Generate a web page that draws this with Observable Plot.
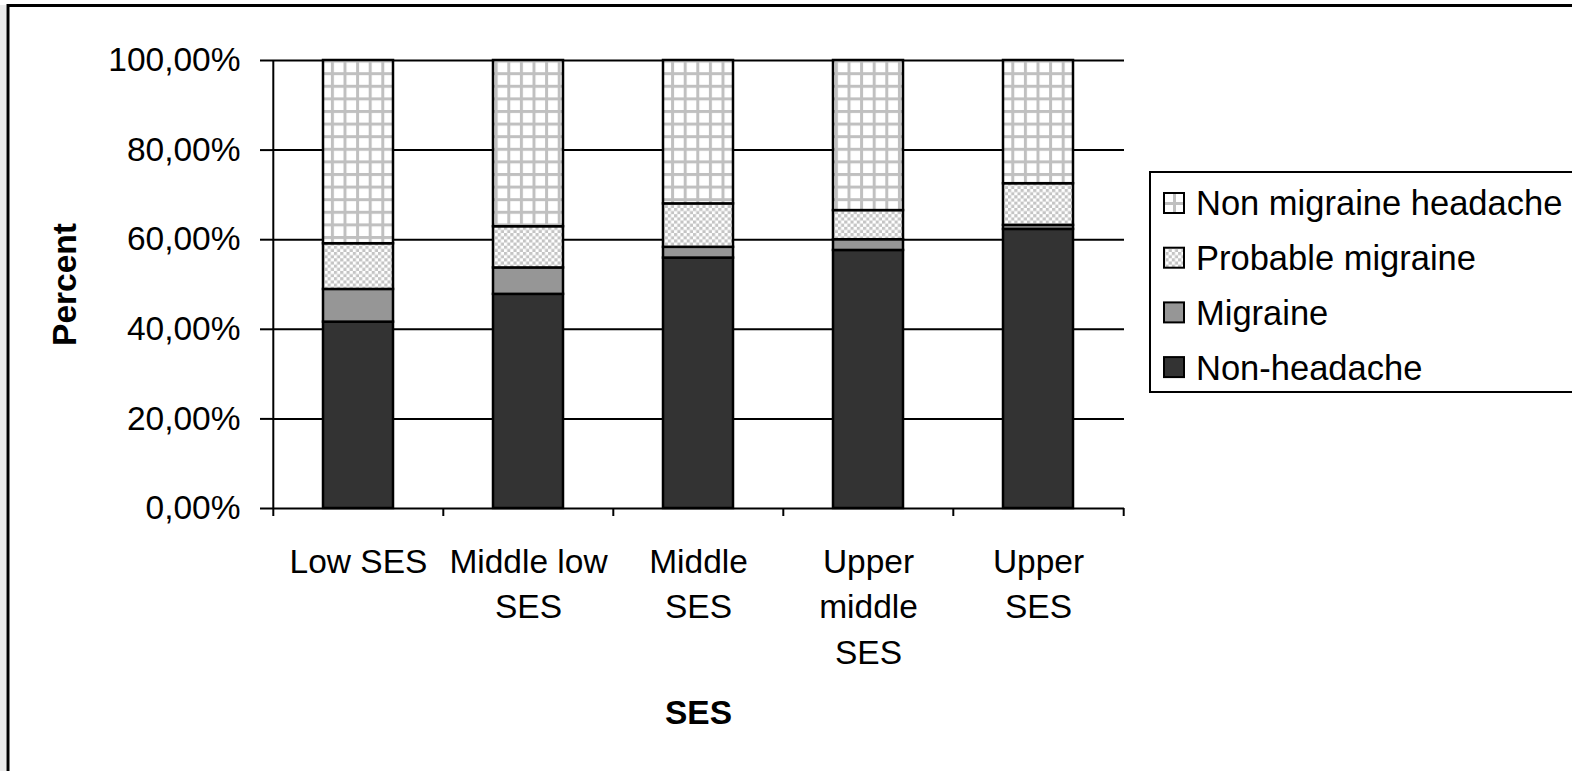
<!DOCTYPE html>
<html><head><meta charset="utf-8">
<script src="https://cdn.jsdelivr.net/npm/d3@7"></script>
<script src="https://cdn.jsdelivr.net/npm/@observablehq/plot@0.6"></script>
<style>
body{margin:0;background:#fff;}
#chart{position:relative;width:1572px;height:771px;overflow:hidden;}
</style>
</head><body>
<svg width="0" height="0" style="position:absolute">
  <defs>
    <pattern id="pat-grid" patternUnits="userSpaceOnUse" x="3.3" y="9.2" width="12.6" height="12.6">
      <rect width="12.6" height="12.6" fill="#ffffff"/>
      <rect x="0" y="0" width="3" height="12.6" fill="#c0c0c0"/>
      <rect x="0" y="0" width="12.6" height="3" fill="#c0c0c0"/>
    </pattern>
    <pattern id="pat-checker" patternUnits="userSpaceOnUse" width="6.3" height="6.3">
      <rect width="6.3" height="6.3" fill="#ffffff"/>
      <rect x="0" y="0" width="3.15" height="3.15" fill="#c4c4c4"/>
      <rect x="3.15" y="3.15" width="3.15" height="3.15" fill="#c4c4c4"/>
    </pattern>
    <pattern id="pat-grid-small" patternUnits="objectBoundingBox" width="1" height="1">
      <rect width="20" height="20" fill="#ffffff"/>
      <rect x="9" y="0" width="3" height="20" fill="#c0c0c0"/>
      <rect x="0" y="9" width="20" height="3" fill="#c0c0c0"/>
    </pattern>
  </defs>
</svg>
<div id="chart"></div>
<script>
const categories = ["Low SES", "Middle low SES", "Middle SES", "Upper middle SES", "Upper SES"];
const categoryLabels = ["Low SES", "Middle low\nSES", "Middle\nSES", "Upper\nmiddle\nSES", "Upper\nSES"];
const seriesNames = ["Non-headache", "Migraine", "Probable migraine", "Non migraine headache"];
const nonHeadache = [41.6, 47.8, 55.9, 57.6, 62.3];
const migraine = [7.3, 5.9, 2.4, 2.4, 0.9];
const probableMigraine = [10.2, 9.2, 9.7, 6.5, 9.3];
const nonMigraineHeadache = [40.9, 37.1, 32.0, 33.5, 27.5];
const yTicks = [0, 20, 40, 60, 80, 100];
const legendOrder = ["Non migraine headache", "Probable migraine", "Migraine", "Non-headache"];

const seriesValues = [nonHeadache, migraine, probableMigraine, nonMigraineHeadache];
const fills = ["#333333", "#969696", "url(#pat-checker)", "url(#pat-grid)"];
const legendFills = {"Non-headache": "#333333", "Migraine": "#969696", "Probable migraine": "url(#pat-checker)", "Non migraine headache": "url(#pat-grid-small)"};

const rows = [];
categories.forEach((c, i) => {
  seriesNames.forEach((s, j) => rows.push({ses: c, series: s, value: seriesValues[j][i]}));
});

const W = 1572, H = 771;
const mL = 272, mR = 448, mT = 60, mB = 263;
const step = (W - mL - mR) / categories.length;
const font = "'Liberation Sans', Arial, Helvetica, sans-serif";
const fs = 33.5;

const chart = Plot.plot({
  width: W, height: H,
  marginLeft: mL, marginRight: mR, marginTop: mT, marginBottom: mB,
  style: {fontFamily: font, fontSize: fs + "px", color: "black", background: "white", overflow: "visible"},
  x: {type: "band", domain: categories, paddingInner: 0.589, paddingOuter: 0.2945, axis: null},
  y: {domain: [0, 100], axis: null},
  color: {domain: seriesNames, range: fills},
  marks: [
    Plot.ruleY(yTicks, {stroke: "black", strokeWidth: 2}),
    Plot.barY(rows, Plot.stackY({x: "ses", y: "value", fill: "series", stroke: "black", strokeWidth: 2.5})),
    Plot.ruleX([categories[0]], {x: d => d, dx: -step / 2, y1: 100, y2: 0, insetBottom: -8, stroke: "black", strokeWidth: 2}),
    Plot.ruleX(categories.slice(1), {x: d => d, dx: -step / 2, y1: 0, y2: 0, insetBottom: -8, stroke: "black", strokeWidth: 2}),
    Plot.ruleX([categories[categories.length - 1]], {x: d => d, dx: step / 2, y1: 0, y2: 0, insetBottom: -8, stroke: "black", strokeWidth: 2}),
    Plot.axisY(yTicks, {tickSize: 12, tickPadding: 20, tickFormat: d => d.toFixed(2).replace(".", ",") + "%", label: null, strokeWidth: 2, fontSize: fs}),
    Plot.text(categories, {x: d => d, text: (d, i) => categoryLabels[i], frameAnchor: "bottom", textAnchor: "middle", lineAnchor: "top", dy: 32, lineHeight: 1.36, fontSize: fs}),
    Plot.text(["SES"], {frameAnchor: "bottom", text: d => d, textAnchor: "middle", lineAnchor: "middle", dy: 205, fontWeight: "bold", fontSize: fs}),
    Plot.text(["Percent"], {frameAnchor: "left", text: d => d, textAnchor: "middle", lineAnchor: "middle", rotate: -90, dx: -207, fontWeight: "bold", fontSize: fs})
  ]
});

document.getElementById("chart").appendChild(chart);

// outer frame and legend
const svg = d3.select(chart);
const deco = svg.append("g");
deco.append("rect").attr("x", 0).attr("y", 5).attr("width", 6).attr("height", H).attr("fill", "#ebebeb");
deco.append("line").attr("x1", 8).attr("x2", W + 5).attr("y1", 5.5).attr("y2", 5.5).attr("stroke", "black").attr("stroke-width", 3);
deco.append("line").attr("x1", 8).attr("x2", 8).attr("y1", 4).attr("y2", H + 5).attr("stroke", "black").attr("stroke-width", 3);

const lg = svg.append("g").attr("font-family", font).attr("font-size", 34.5).attr("text-anchor", "start");
lg.append("rect").attr("x", 1150).attr("y", 172).attr("width", 440).attr("height", 220)
  .attr("fill", "white").attr("stroke", "black").attr("stroke-width", 2);
legendOrder.forEach((name, i) => {
  const cy = 203 + i * 54.7;
  lg.append("rect").attr("x", 1164).attr("y", cy - 10).attr("width", 20).attr("height", 20)
    .attr("fill", legendFills[name]).attr("stroke", "black").attr("stroke-width", 2);
  lg.append("text").attr("x", 1196).attr("y", cy).attr("dy", "0.36em").attr("text-anchor", "start").attr("fill", "black").text(name);
});
</script>
</body></html>
